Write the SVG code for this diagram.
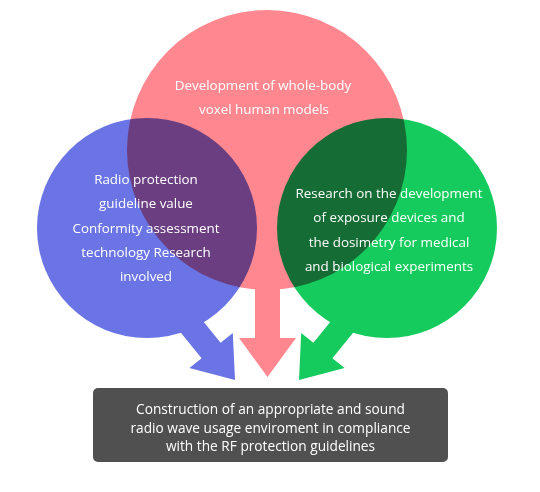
<svg xmlns="http://www.w3.org/2000/svg" width="540" height="492" viewBox="0 0 540 492">
<style>
.c{mix-blend-mode:multiply}
.t{font-family:"Open Sans","Liberation Sans",sans-serif;font-size:13.4px;fill:#ffffff;text-anchor:middle}
.b{font-size:13.7px}
.red{fill:#ff8890}
.blue{fill:#6a74e4}
.green{fill:#15cb5d}
</style>
<rect width="540" height="492" fill="#ffffff"/>
<g id="node-models">
<circle class="c red" cx="267" cy="150" r="140"/>
<text class="t" x="263" y="90">Development of whole-body</text>
<text class="t" x="264" y="114">voxel human models</text>
</g>
<g id="node-guideline">
<circle class="c blue" cx="147" cy="228" r="110"/>
<text class="t" x="146" y="184">Radio protection</text>
<text class="t" x="146" y="208">guideline value</text>
<text class="t" x="146" y="233">Conformity assessment</text>
<text class="t" x="146" y="257">technology Research</text>
<text class="t" x="146" y="281">involved</text>
</g>
<g id="node-exposure">
<circle class="c green" cx="387" cy="228" r="110"/>
<text class="t" x="389" y="198">Research on the development</text>
<text class="t" x="389" y="222">of exposure devices and</text>
<text class="t" x="389" y="247">the dosimetry for medical</text>
<text class="t" x="389" y="271">and biological experiments</text>
</g>
<g id="connectors">
<polygon class="blue" points="185.9,300.1 220.6,342.8 232.8,332.9 235,380 189.4,368.1 201.6,358.2 166.9,315.5"/>
<polygon class="red" points="255,270 280,270 280,338 296,338 267.5,377 239,338 255,338"/>
<polygon class="green" points="348.1,300.1 313.4,342.8 301.2,332.9 299,380 344.6,368.1 332.4,358.2 367.1,315.5"/>
</g>
<g id="node-result">
<rect x="93" y="388" width="355" height="74" rx="5" fill="#505050"/>
<text class="t b" x="270.5" y="414">Construction of an appropriate and sound</text>
<text class="t b" x="270.5" y="433">radio wave usage enviroment in compliance</text>
<text class="t b" x="270.5" y="451">with the RF protection guidelines</text>
</g>
</svg>
